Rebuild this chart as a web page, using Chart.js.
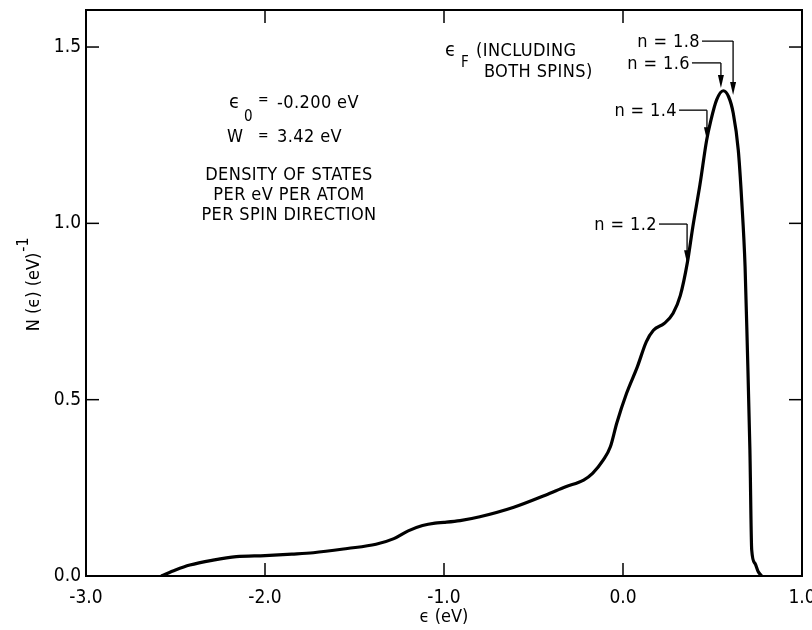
<!DOCTYPE html>
<html>
<head>
<meta charset="utf-8">
<script src="https://cdn.jsdelivr.net/npm/chart.js@4.4.1/dist/chart.umd.min.js"></script>
<style>
  html, body { margin: 0; padding: 0; background: #fff; }
</style>
</head>
<body>
<canvas id="grafik-dos" width="812" height="630"></canvas>
<script>
/* kurva rapat keadaan N(e) */
var energi = [-2.58, -2.50, -2.42, -2.29, -2.16, -2.00, -1.85, -1.73, -1.54, -1.38,
              -1.28, -1.20, -1.12, -1.05, -1.00, -0.91, -0.80, -0.61, -0.43, -0.32,
              -0.22, -0.17, -0.11, -0.07, -0.035, 0.02, 0.08, 0.13, 0.17, 0.23,
              0.28, 0.32, 0.36, 0.39, 0.43, 0.467, 0.49, 0.523, 0.56, 0.59,
              0.616, 0.644, 0.663, 0.682, 0.695, 0.709, 0.719, 0.737, 0.755, 0.774];
var dos    = [0.000, 0.017, 0.031, 0.045, 0.055, 0.058, 0.062, 0.066, 0.078, 0.090,
              0.106, 0.128, 0.143, 0.150, 0.152, 0.157, 0.168, 0.195, 0.230, 0.253,
              0.272, 0.291, 0.329, 0.367, 0.433, 0.518, 0.593, 0.664, 0.697, 0.716,
              0.745, 0.795, 0.890, 0.990, 1.110, 1.235, 1.290, 1.350, 1.376, 1.359,
              1.312, 1.208, 1.066, 0.877, 0.640, 0.357, 0.074, 0.036, 0.013, 0.000];

var xTicks = [-3, -2, -1, 0, 1];
var yTicks = [0, 0.5, 1.0, 1.5];

// panah eF: label, ujung panah (e, N), tinggi garis (N), ujung kanan teks (e)
var panahLabel = ['n = 1.8', 'n = 1.6', 'n = 1.4', 'n = 1.2'];
var panahE     = [0.615, 0.547, 0.469, 0.358];
var panahN     = [1.364, 1.384, 1.236, 0.887];
var panahGaris = [1.517, 1.455, 1.321, 0.998];
var panahTeks  = [0.430, 0.374, 0.302, 0.190];

var FONT = "'DejaVu Sans Condensed', 'DejaVu Sans', sans-serif";

function tulis(ctx, s, x, y, align, size) {
  ctx.font = size + 'px ' + FONT;
  ctx.textAlign = align;
  ctx.textBaseline = 'middle';
  ctx.fillText(s, x, y);
}

var pluginBingkai = {
  id: 'bingkai',
  afterDraw: function(chart) {
    var ctx = chart.ctx, a = chart.chartArea;
    var sx = chart.scales.x, sy = chart.scales.y;
    function X(e) { return sx.getPixelForValue(e); }
    function Y(n) { return sy.getPixelForValue(n); }
    function garis(x1, y1, x2, y2) {
      ctx.beginPath(); ctx.moveTo(x1, y1); ctx.lineTo(x2, y2); ctx.stroke();
    }

    ctx.save();
    ctx.strokeStyle = '#000';
    ctx.fillStyle = '#000';

    // bingkai + tick ke dalam
    ctx.lineWidth = 2;
    ctx.strokeRect(a.left, a.top, a.right - a.left, a.bottom - a.top);
    ctx.lineWidth = 1.5;
    var tl = 13;
    xTicks.forEach(function(v) {
      if (v <= sx.min || v >= sx.max) return;
      garis(X(v), a.bottom, X(v), a.bottom - tl);
      garis(X(v), a.top, X(v), a.top + tl);
    });
    yTicks.forEach(function(v) {
      if (v <= sy.min || v >= sy.max) return;
      garis(a.left, Y(v), a.left + tl, Y(v));
      garis(a.right, Y(v), a.right - tl, Y(v));
    });

    // keterangan kiri
    ctx.letterSpacing = '0.4px';
    tulis(ctx, '\u03F5', X(-2.201), Y(1.341), 'left', 20);
    tulis(ctx, '0', X(-2.117), Y(1.302), 'left', 15);
    tulis(ctx, '=', X(-2.039), Y(1.350), 'left', 14);
    tulis(ctx, '-0.200 eV', X(-1.933), Y(1.341), 'left', 18);
    tulis(ctx, 'W', X(-2.212), Y(1.243), 'left', 18);
    tulis(ctx, '=', X(-2.039), Y(1.248), 'left', 14);
    tulis(ctx, '3.42 eV', X(-1.933), Y(1.243), 'left', 18);
    tulis(ctx, 'DENSITY OF STATES', X(-1.866), Y(1.137), 'center', 18);
    tulis(ctx, 'PER eV PER ATOM', X(-1.866), Y(1.080), 'center', 18);
    tulis(ctx, 'PER SPIN DIRECTION', X(-1.866), Y(1.022), 'center', 18);

    // keterangan eF
    tulis(ctx, '\u03F5', X(-0.994), Y(1.488), 'left', 20);
    tulis(ctx, 'F', X(-0.905), Y(1.455), 'left', 15);
    tulis(ctx, '(INCLUDING', X(-0.821), Y(1.488), 'left', 18);
    tulis(ctx, 'BOTH SPINS)', X(-0.777), Y(1.429), 'left', 18);

    // panah n
    panahLabel.forEach(function(s, i) {
      var xt = X(panahTeks[i]), yg = Y(panahGaris[i]);
      var xp = X(panahE[i]), yp = Y(panahN[i]);
      tulis(ctx, s, xt, yg + 1, 'right', 18);
      ctx.lineWidth = 1.3;
      garis(xt + 2, yg, xp, yg);
      garis(xp, yg, xp, yp - 10);
      ctx.beginPath();
      ctx.moveTo(xp, yp);
      ctx.lineTo(xp - 3, yp - 13);
      ctx.lineTo(xp + 3, yp - 13);
      ctx.closePath();
      ctx.fill();
    });

    // judul sumbu x
    ctx.letterSpacing = '0px';
    tulis(ctx, '\u03F5 (eV)', (a.left + a.right) / 2, 617, 'center', 18);

    // judul sumbu y (diputar)
    ctx.translate(34, 292);
    ctx.rotate(-Math.PI / 2);
    tulis(ctx, 'N (\u03F5) (eV)', 0, 0, 'center', 18);
    var w = ctx.measureText('N (\u03F5) (eV)').width;
    tulis(ctx, '-1', w / 2 + 1, -10, 'left', 16);
    ctx.restore();
  }
};

function tanpaPadding(s) {
  s.paddingLeft = 0; s.paddingRight = 0;
  s.paddingTop = 0; s.paddingBottom = 0;
}

var ctx = document.getElementById('grafik-dos');
var chartDos = new Chart(ctx, {
  type: 'line',
  data: {
    datasets: [{
      data: energi.map(function(e, i) { return { x: e, y: dos[i] }; }),
      borderColor: '#000',
      borderWidth: 3.2,
      pointRadius: 0,
      fill: false,
      cubicInterpolationMode: 'monotone'
    }]
  },
  options: {
    responsive: false,
    animation: false,
    devicePixelRatio: 1,
    layout: { padding: { top: 10, right: 10, left: 0, bottom: 0 } },
    plugins: { legend: { display: false }, tooltip: { enabled: false } },
    scales: {
      x: {
        type: 'linear', min: -3, max: 1,
        afterFit: function(s) { s.height = 54; tanpaPadding(s); },
        afterBuildTicks: function(s) { s.ticks = xTicks.map(function(v) { return { value: v }; }); },
        grid: { display: false, drawTicks: false },
        border: { display: false },
        ticks: {
          padding: 11, maxRotation: 0, autoSkip: false, color: '#000',
          font: { family: FONT, size: 19 },
          callback: function(v) { return Number(v).toFixed(1); }
        }
      },
      y: {
        min: 0, max: 1.605,
        afterFit: function(s) { s.width = 86; tanpaPadding(s); },
        afterBuildTicks: function(s) { s.ticks = yTicks.map(function(v) { return { value: v }; }); },
        grid: { display: false, drawTicks: false },
        border: { display: false },
        ticks: {
          padding: 5, color: '#000',
          font: { family: FONT, size: 19 },
          callback: function(v) { return Number(v).toFixed(1); }
        }
      }
    }
  },
  plugins: [pluginBingkai]
});
</script>
</body>
</html>
